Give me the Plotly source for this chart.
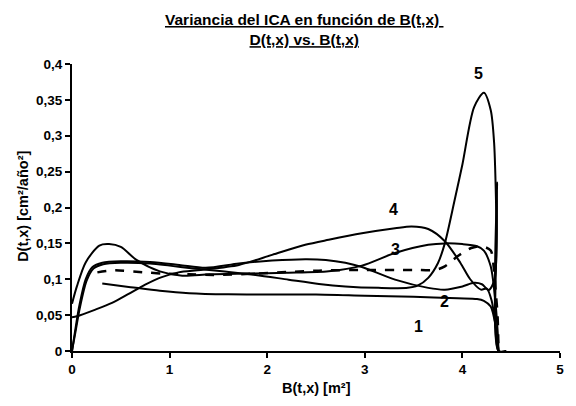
import plotly.graph_objects as go

# ---- data ----
x1 = [0.31, 0.6, 0.9, 1.2, 1.6, 2.0, 2.5, 3.0, 3.5, 3.95, 4.15, 4.22, 4.29, 4.34, 4.37]
y1 = [0.094, 0.089, 0.084, 0.0806, 0.079, 0.0787, 0.0787, 0.077, 0.0755, 0.0735, 0.0725, 0.070, 0.062, 0.035, 0.0]

x2 = [0.0, 0.04, 0.075, 0.14, 0.21, 0.31, 0.5, 0.8, 1.1, 1.37, 1.71, 2.05, 2.39, 2.6, 2.8, 2.97, 3.31,
      3.65, 3.82, 4.0, 4.12, 4.2, 4.27, 4.33, 4.355, 4.37, 4.45]
y2 = [0.0, 0.035, 0.063, 0.10, 0.117, 0.123, 0.125, 0.124, 0.12, 0.116, 0.122, 0.126, 0.128, 0.127, 0.123,
      0.117, 0.0995, 0.088, 0.0855, 0.090, 0.095, 0.093, 0.085, 0.10, 0.235, 0.0, 0.0]

x3 = [0.0, 0.05, 0.14, 0.28, 0.38, 0.5, 0.66, 0.9, 1.13, 1.41, 1.8, 2.2, 2.63, 2.97, 3.31, 3.65, 3.82,
      4.0, 4.15, 4.22, 4.29, 4.33, 4.36, 4.37]
y3 = [0.066, 0.09, 0.1235, 0.147, 0.149, 0.145, 0.127, 0.111, 0.105, 0.107, 0.108, 0.109, 0.111, 0.119,
      0.1366, 0.148, 0.150, 0.149, 0.146, 0.14, 0.118, 0.08, 0.03, 0.0]

x4 = [0.0, 0.05, 0.24, 0.41, 0.58, 0.75, 0.92, 1.09, 1.32, 1.71, 2.05, 2.39, 2.63, 2.97, 3.31, 3.48, 3.65,
      3.82, 3.98, 4.08, 4.19, 4.25, 4.3, 4.34, 4.37]
y4 = [0.047, 0.0484, 0.0577, 0.067, 0.0795, 0.0925, 0.103, 0.1096, 0.113, 0.120, 0.134, 0.148, 0.155,
      0.164, 0.171, 0.1736, 0.17, 0.153, 0.1227, 0.10, 0.0855, 0.087, 0.07, 0.035, 0.0]

x5 = [0.0, 0.04, 0.08, 0.15, 0.22, 0.32, 0.5, 0.8, 1.0, 1.2, 1.54, 1.88, 2.22, 2.53, 2.8, 3.14, 3.44, 3.54,
      3.65, 3.75, 3.82, 3.92, 4.0, 4.12, 4.22, 4.29, 4.325, 4.35, 4.37, 4.45]
y5 = [0.0, 0.03, 0.06, 0.098, 0.115, 0.121, 0.123, 0.122, 0.119, 0.1157, 0.111, 0.106, 0.0994, 0.0935,
      0.09, 0.088, 0.088, 0.091, 0.102, 0.1227, 0.150, 0.21, 0.26, 0.34, 0.36, 0.336, 0.29, 0.174, 0.0, 0.0]

xd = [0.26, 0.41, 0.75, 0.92, 1.2, 1.45, 1.9, 2.2, 2.53, 3.0, 3.5, 3.72, 3.82, 3.95, 4.09, 4.2, 4.29,
      4.32, 4.34, 4.36, 4.37]
yd = [0.1096, 0.1124, 0.1096, 0.108, 0.107, 0.106, 0.108, 0.110, 0.112, 0.113, 0.113, 0.113, 0.118, 0.132,
      0.1435, 0.146, 0.140, 0.118, 0.085, 0.05, 0.0]

curve_labels = ["1", "2", "3", "4", "5"]
label_x = [3.55, 3.82, 3.31, 3.29, 4.17]
label_y = [0.0345, 0.069, 0.141, 0.197, 0.387]

x_ticks = [0, 1, 2, 3, 4, 5]
y_ticks = [0, 0.05, 0.1, 0.15, 0.2, 0.25, 0.3, 0.35, 0.4]
y_ticktext = ["0", "0,05", "0,1", "0,15", "0,2", "0,25", "0,3", "0,35", "0,4"]

title1 = "Variancia del ICA en función de B(t,x) "
title2 = "D(t,x) vs. B(t,x)"
x_title = "B(t,x) [m²]"
y_title = "D(t,x) [cm²/año²]"

FONT = "Liberation Sans, Arial, sans-serif"

fig = go.Figure()
for xs, ys in [(x1, y1), (x2, y2), (x3, y3), (x4, y4), (x5, y5)]:
    fig.add_trace(go.Scatter(x=xs, y=ys, mode="lines",
                             line=dict(color="black", width=2, shape="spline", smoothing=0.8),
                             showlegend=False, hoverinfo="skip"))
fig.add_trace(go.Scatter(x=xd, y=yd, mode="lines",
                         line=dict(color="black", width=2.5, dash="dash", shape="spline", smoothing=0.8),
                         showlegend=False, hoverinfo="skip"))

for t, lx, ly in zip(curve_labels, label_x, label_y):
    fig.add_annotation(x=lx, y=ly, text="<b>%s</b>" % t, showarrow=False,
                       font=dict(family=FONT, size=16, color="black"))

fig.add_annotation(xref="paper", yref="paper", x=0.4745, y=1.12, xanchor="center", yanchor="middle",
                   text="<b><u>%s</u></b><br><b><u>%s</u></b>" % (title1, title2), showarrow=False,
                   font=dict(family=FONT, size=15.5, color="black"))
fig.add_annotation(xref="paper", yref="paper", x=-0.102, y=0.503, xanchor="center", yanchor="middle",
                   textangle=-90, text="<b>%s</b>" % y_title, showarrow=False,
                   font=dict(family=FONT, size=14.5, color="black"))
fig.add_annotation(xref="paper", yref="paper", x=0.5, y=-0.13, xanchor="center", yanchor="middle",
                   text="<b>%s</b>" % x_title, showarrow=False,
                   font=dict(family=FONT, size=14.5, color="black"))

fig.update_layout(
    width=576, height=406,
    margin=dict(l=72, r=13, t=64, b=55),
    paper_bgcolor="white", plot_bgcolor="white",
    font=dict(family=FONT, color="black"),
    xaxis=dict(range=[0, 5], tickvals=x_ticks, ticktext=["<b>%d</b>" % v for v in x_ticks],
               showgrid=False, zeroline=False, showline=True, linecolor="black", linewidth=2,
               ticks="outside", ticklen=5, tickwidth=2, tickcolor="black",
               tickfont=dict(family=FONT, size=13.5, color="black")),
    yaxis=dict(range=[0, 0.4], tickvals=y_ticks, ticktext=["<b>%s</b>" % s for s in y_ticktext],
               showgrid=False, zeroline=False, showline=True, linecolor="black", linewidth=2,
               ticks="outside", ticklen=5, tickwidth=2, tickcolor="black",
               tickfont=dict(family=FONT, size=13.5, color="black")),
)

fig.write_html("out.html")
